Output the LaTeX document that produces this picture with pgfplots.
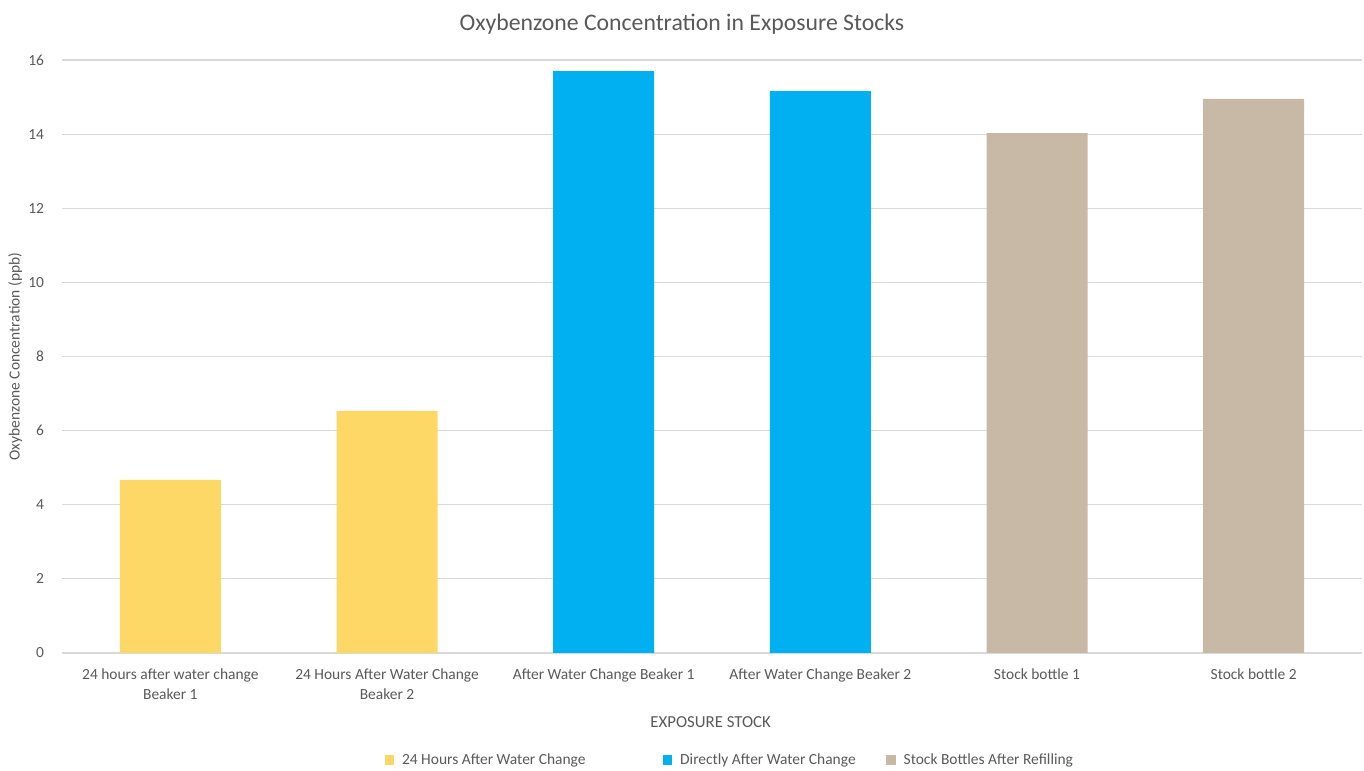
\documentclass[border=0pt]{standalone}
\usepackage{pgfplots}
\pgfplotsset{compat=1.18}
\usepackage{fontspec}
\setmainfont{Carlito}
\definecolor{cyel}{RGB}{253,216,102}
\definecolor{cblue}{RGB}{0,176,240}
\definecolor{ctan}{RGB}{200,184,166}
\definecolor{ctext}{RGB}{89,89,89}
\definecolor{cgrid}{RGB}{217,217,217}
\begin{document}
\begin{tikzpicture}
\useasboundingbox (0,0) rectangle (1023pt,578.25pt);
\begin{axis}[
  at={(46.5pt,88.5pt)}, anchor=south west,
  scale only axis, width=975pt, height=444.75pt,
  ybar, bar width=75.75pt, bar shift=0pt,
  xmin=-0.5, xmax=5.5, ymin=0, ymax=16,
  ytick={0,2,...,16}, xtick={0,...,5},
  xticklabels={{24 hours after water change\\Beaker 1},{24 Hours After Water Change\\Beaker 2},{After Water Change Beaker 1},{After Water Change Beaker 2},{Stock bottle 1},{Stock bottle 2}},
  xticklabel style={align=center, anchor=north, yshift=-8.5pt, font=\fontsize{11.6}{15}\selectfont, text=ctext},
  yticklabel style={font=\fontsize{11.6}{15}\selectfont, text=ctext, xshift=-10pt},
  /pgf/number format/assume math mode=true,
  major tick length=0pt,
  ymajorgrids, grid style={cgrid, line width=0.9pt},
  axis x line*=bottom, axis y line*=left,
  x axis line style={cgrid, line width=0.9pt, -},
  y axis line style={draw=none},
  ylabel={Oxybenzone Concentration (ppb)},
  ylabel style={at={(axis description cs:-0.036,0.5)}, anchor=center, font=\fontsize{11.6}{15}\selectfont, text=ctext},
  legend columns=3,
  legend style={at={(0.514,0)}, anchor=center, yshift=-80.25pt, draw=none, fill=none,
    font=\fontsize{11.6}{15}\selectfont, text=ctext,
    /tikz/every odd column/.append style={column sep=4pt},
    /tikz/every even column/.append style={column sep=21pt}},
  legend image code/.code={\fill[#1] (0pt,-3.5pt) rectangle (7pt,3.5pt);},
]
\addplot[fill=cyel, draw=none] coordinates {(0,4.67) (1,6.53)};
\addlegendentry{24 Hours After Water Change\kern35pt}
\addplot[fill=cblue, draw=none] coordinates {(2,15.70) (3,15.16)};
\addlegendentry{Directly After Water Change}
\addplot[fill=ctan, draw=none] coordinates {(4,14.03) (5,14.95)};
\addlegendentry{Stock Bottles After Refilling}
\end{axis}
\node[text=ctext, font=\fontsize{17.8}{21}\selectfont] at (511.5pt,560.25pt) {Oxybenzone Concentration in Exposure Stocks};
\node[text=ctext, font=\fontsize{12.6}{15}\selectfont] at (533pt,36.75pt) {EXPOSURE STOCK};
\end{tikzpicture}
\end{document}
